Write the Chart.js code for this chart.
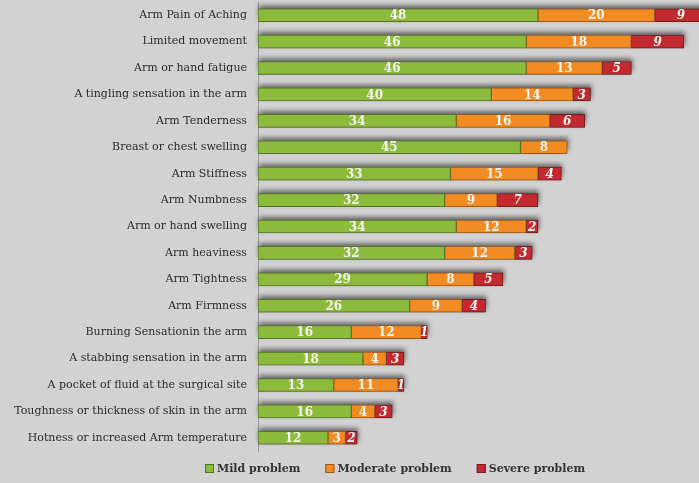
<!DOCTYPE html>
<html>
<head>
<meta charset="utf-8">
<script src="https://cdn.jsdelivr.net/npm/chart.js@4"></script>
<style>
  html, body { margin: 0; padding: 0; background: #d2d2d2; }
  #wrap { width: 699px; height: 483px; }
</style>
</head>
<body>
<div id="wrap"><canvas id="chart" width="699" height="483"></canvas></div>
<script>
// ---------- Data ----------
const symptoms = [
    'Arm Pain of Aching',
    'Limited movement',
    'Arm or hand fatigue',
    'A tingling sensation in the arm',
    'Arm Tenderness',
    'Breast or chest swelling',
    'Arm Stiffness',
    'Arm Numbness',
    'Arm or hand swelling',
    'Arm heaviness',
    'Arm Tightness',
    'Arm Firmness',
    'Burning Sensationin the arm',
    'A stabbing sensation in the arm',
    'A pocket of fluid at the surgical site',
    'Toughness or thickness of skin in the arm',
    'Hotness or increased Arm temperature'
];
const mild     = [48, 46, 46, 40, 34, 45, 33, 32, 34, 32, 29, 26, 16, 18, 13, 16, 12];
const moderate = [20, 18, 13, 14, 16, 8, 15, 9, 12, 12, 8, 9, 12, 4, 11, 4, 3];
const severe   = [9, 9, 5, 3, 6, 0, 4, 7, 2, 3, 5, 4, 1, 3, 1, 3, 2];

const FONT = '"DejaVu Serif", "Liberation Serif", serif';

// ---------- Row shadows, value labels, legend ----------
const barDecor = {
    id: 'barDecor',
    beforeDatasetsDraw(chart) {
        const ctx = chart.ctx;
        const metas = chart.data.datasets.map((_, di) => chart.getDatasetMeta(di));
        ctx.save();
        ctx.fillStyle = '#666';
        ctx.shadowColor = 'rgba(0,0,0,0.55)';
        ctx.shadowBlur = 5;
        ctx.shadowOffsetX = 1;
        ctx.shadowOffsetY = -3;
        metas[0].data.forEach((bar, i) => {
            const right = Math.max(...metas.map(m => m.data[i].x));
            const h = bar.height;
            ctx.fillRect(bar.base, bar.y - h / 2, right - bar.base, h);
        });
        ctx.restore();
    },
    afterDatasetsDraw(chart) {
        const ctx = chart.ctx;
        ctx.save();
        ctx.textAlign = 'center';
        ctx.textBaseline = 'middle';
        ctx.fillStyle = '#f6f6f0';
        chart.data.datasets.forEach((ds, di) => {
            const meta = chart.getDatasetMeta(di);
            ctx.font = (di === 2 ? 'italic ' : '') + 'bold 12px ' + FONT;
            meta.data.forEach((bar, i) => {
                const v = ds.data[i];
                if (!v) return;
                ctx.fillText(String(v), (bar.x + bar.base) / 2, bar.y + 1);
            });
        });
        ctx.restore();
    },
    afterDraw(chart) {
        // legend laid out like the original: small square, label, wide gaps
        const ctx = chart.ctx;
        ctx.save();
        ctx.font = 'bold 11px ' + FONT;
        ctx.textBaseline = 'middle';
        let x = 205;
        const y = 469;
        chart.data.datasets.forEach(ds => {
            ctx.fillStyle = ds.backgroundColor;
            ctx.fillRect(x, y - 5, 9, 9);
            ctx.strokeStyle = ds.borderColor;
            ctx.lineWidth = 1;
            ctx.strokeRect(x + 0.5, y - 4.5, 8, 8);
            ctx.fillStyle = '#333';
            ctx.fillText(ds.label, x + 12, y);
            x += 12 + ctx.measureText(ds.label).width + 25;
        });
        ctx.restore();
    }
};

new Chart(document.getElementById('chart'), {
    type: 'bar',
    data: {
        labels: symptoms,
        datasets: [
            { label: 'Mild problem', data: mild, backgroundColor: '#8cbb3c', borderColor: '#56752a' },
            { label: 'Moderate problem', data: moderate, backgroundColor: '#f28c22', borderColor: '#9a5a1c' },
            { label: 'Severe problem', data: severe, backgroundColor: '#c32a30', borderColor: '#6e1f22' }
        ]
    },
    options: {
        indexAxis: 'y',
        responsive: false,
        animation: false,
        datasets: { bar: { barThickness: 13, borderWidth: 1, borderSkipped: false } },
        layout: { padding: { top: 2, right: 0, left: 0, bottom: 32 } },
        scales: {
            x: { stacked: true, min: 0, max: 75.6, display: false },
            y: {
                stacked: true,
                grid: { display: false, drawTicks: false },
                border: { display: true, color: '#9a9a9a', width: 1 },
                ticks: { color: '#2b2b2b', padding: 11, font: { family: FONT, size: 11 } },
                afterFit(scale) {
                    scale.width = 258;
                    scale.paddingTop = 0;
                    scale.paddingBottom = 0;
                }
            }
        },
        plugins: {
            tooltip: { enabled: false },
            legend: { display: false }
        }
    },
    plugins: [barDecor]
});
</script>
</body>
</html>
